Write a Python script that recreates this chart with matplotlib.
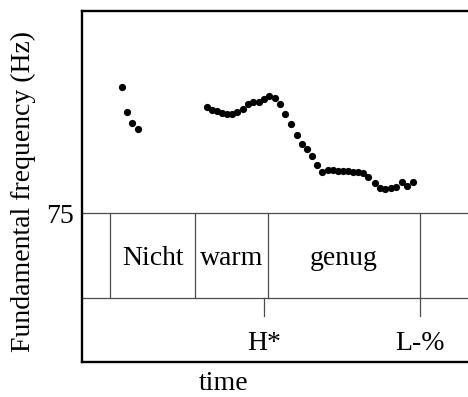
import matplotlib
matplotlib.use("Agg")
import matplotlib.pyplot as plt
import matplotlib.transforms as mtransforms

plt.rcParams['font.family'] = ['Liberation Serif', 'DejaVu Serif']

# Pitch track (time in s, F0 in Hz)
t_seg1 = [0.200, 0.225, 0.250, 0.280]
f0_seg1 = [152.6, 137.4, 130.6, 127.2]

t_seg2 = [0.625, 0.650, 0.675, 0.700, 0.725, 0.750, 0.775, 0.805, 0.830, 0.855,
          0.885, 0.910, 0.935, 0.965, 0.990, 1.015, 1.045, 1.075, 1.100, 1.125,
          1.150, 1.175, 1.200, 1.230, 1.255, 1.280, 1.305, 1.330, 1.355, 1.380,
          1.405, 1.430, 1.465, 1.490, 1.515, 1.545, 1.570, 1.600, 1.625, 1.655]
f0_seg2 = [140.5, 138.4, 138.0, 136.8, 136.0, 136.0, 137.2, 139.2, 142.1, 143.8,
           143.8, 145.4, 147.0, 146.2, 142.1, 136.4, 129.8, 123.0, 117.5, 114.8,
           110.1, 104.6, 100.4, 101.9, 101.5, 101.0, 101.0, 100.9, 100.4, 100.4,
           99.8, 97.4, 93.7, 90.6, 90.2, 90.8, 91.2, 94.3, 91.6, 94.1]

# Word tier
word_bounds = [0.14, 0.565, 0.9275, 1.69]
words = ["Nicht", "warm", "genug"]

# Tone tier
tone_times = [0.91, 1.69]
tones = ["H*", "L-%"]

f0_floor = 75

fig = plt.figure(figsize=(4.68, 3.97), dpi=100)
ax = fig.add_axes([82/468, 35/397, 1 - 82/468, 351.5/397])

ax.set_xlim(0, 1.93)
ax.set_ylim(-16.75, 200)

ax.plot(t_seg1, f0_seg1, 'o', color='black', markersize=5.2, markeredgewidth=0)
ax.plot(t_seg2, f0_seg2, 'o', color='black', markersize=5.2, markeredgewidth=0)

trans = mtransforms.blended_transform_factory(ax.transData, ax.transAxes)
tier_top = (f0_floor - ax.get_ylim()[0]) / (ax.get_ylim()[1] - ax.get_ylim()[0])
tier_bot = 0.182
tick_end = 0.131
line_col = '#4d4d4d'
lw = 0.9

ax.axhline(f0_floor, color=line_col, lw=lw)
ax.axhline(-16.75 + tier_bot * 216.75, color=line_col, lw=lw)
for b in word_bounds:
    ax.plot([b, b], [tier_bot, tier_top], transform=trans, color=line_col, lw=lw)
for i, w in enumerate(words):
    xc = (word_bounds[i] + word_bounds[i + 1]) / 2
    ax.text(xc, 0.276, w, transform=trans, ha='center', va='baseline', fontsize=20)
for tt, lab in zip(tone_times, tones):
    ax.plot([tt, tt], [tick_end, tier_bot], transform=trans, color=line_col, lw=lw)
    ax.text(tt, 0.034, lab, transform=trans, ha='center', va='baseline', fontsize=20)

ax.set_xticks([])
ax.set_yticks([f0_floor])
ax.set_yticklabels(["75"], fontsize=20)
ax.tick_params(axis='y', length=0, pad=6)
for side in ['left', 'top', 'bottom']:
    ax.spines[side].set_linewidth(1.7)
ax.spines['right'].set_visible(False)

fig.text(224/468, 0.5/397, "time", ha='center', va='bottom', fontsize=20)
fig.text(23/468, 205/397, "Fundamental frequency (Hz)", rotation=90,
         ha='center', va='center', fontsize=20)

fig.savefig("out.png", dpi=100)
